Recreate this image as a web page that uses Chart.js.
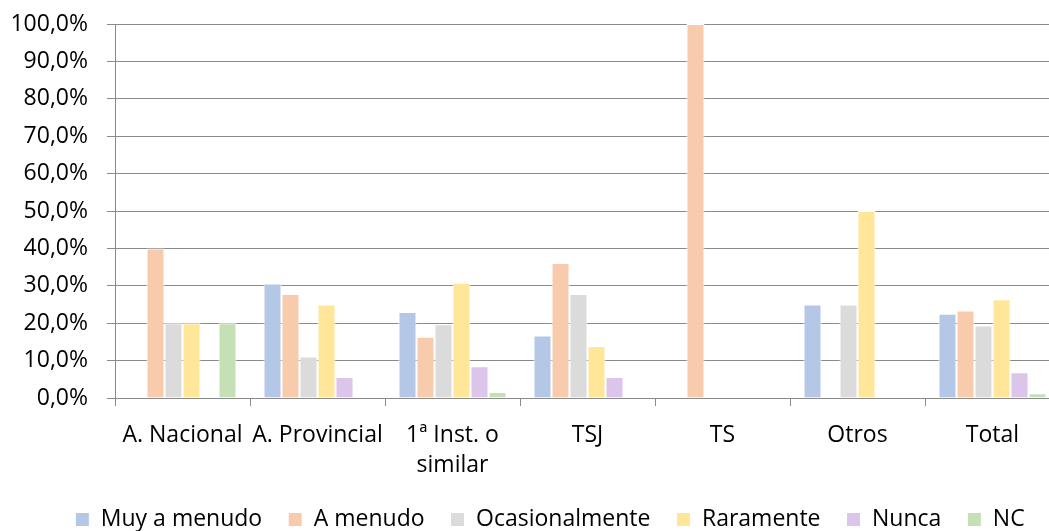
<!DOCTYPE html>
<html>
<head>
<meta charset="utf-8">
<script src="https://cdn.jsdelivr.net/npm/chart.js@4/dist/chart.umd.min.js"></script>
<style>
  html, body { margin: 0; padding: 0; overflow: hidden; background: #fff; }
  #wrap { width: 1100px; height: 541px; }
</style>
</head>
<body>
<div id="wrap"><canvas id="c" width="1100" height="541"></canvas></div>
<script>
const categories = ["A. Nacional", "A. Provincial", ["1ª Inst. o", "similar"], "TSJ", "TS", "Otros", "Total"];
const seriesNames = ["Muy a menudo", "A menudo", "Ocasionalmente", "Raramente", "Nunca", "NC"];
const muyAMenudo     = [0,    30.6, 23.0, 16.7, 0,   25, 22.5];
const aMenudo        = [40,   27.8, 16.4, 36.1, 100, 0,  23.4];
const ocasionalmente = [20,   11.1, 19.7, 27.8, 0,   25, 19.4];
const raramente      = [20,   25.0, 30.8, 13.9, 0,   50, 26.4];
const nunca          = [0,    5.6,  8.5,  5.6,  0,   0,  6.9];
const nc             = [20,   0,    1.6,  0,    0,   0,  1.3];
const yTicks = [0, 10, 20, 30, 40, 50, 60, 70, 80, 90, 100];

const seriesValues = [muyAMenudo, aMenudo, ocasionalmente, raramente, nunca, nc];
const colors = ["#B4C7E7", "#F8CBAD", "#DBDBDB", "#FFE699", "#DCC5EA", "#C5E0B4"];

Chart.defaults.font.family = "'Open Sans', sans-serif";
Chart.defaults.font.size = 23;
Chart.defaults.color = "#000";

const gridColor = "#8a8a8a";

new Chart(document.getElementById("c"), {
  type: "bar",
  data: {
    labels: categories,
    datasets: seriesNames.map((name, i) => ({
      label: name,
      data: seriesValues[i],
      backgroundColor: colors[i],
      borderColor: "#ffffff",
      borderWidth: 1,
      categoryPercentage: 0.8,
      barPercentage: 1.0
    }))
  },
  options: {
    responsive: false,
    devicePixelRatio: 1,
    animation: false,
    layout: { padding: { top: 24, left: 0, right: 0, bottom: 0 } },
    plugins: {
      tooltip: { enabled: false },
      legend: {
        position: "bottom",
        labels: {
          boxWidth: 14,
          boxHeight: 14,
          padding: 26,
          color: "#000",
          font: { size: 23 }
        }
      }
    },
    scales: {
      x: {
        offset: true,
        grid: {
          display: true,
          offset: true,
          drawOnChartArea: false,
          drawTicks: true,
          tickLength: 8,
          color: gridColor,
          lineWidth: 1
        },
        border: { display: true, color: gridColor, width: 1 },
        ticks: {
          autoSkip: false,
          maxRotation: 0,
          minRotation: 0,
          padding: 14,
          color: "#000",
          font: { size: 23, lineHeight: 1.32 }
        },
        afterFit: s => { s.height = 84; }
      },
      y: {
        min: 0,
        max: 100,
        afterBuildTicks: s => { s.ticks = yTicks.map(v => ({ value: v })); },
        grid: {
          color: gridColor,
          lineWidth: 1,
          drawTicks: true,
          tickLength: 8
        },
        border: { display: true, color: gridColor, width: 1 },
        ticks: {
          padding: 19,
          color: "#000",
          font: { size: 23 },
          callback: v => v.toFixed(1).replace(".", ",") + "%"
        },
        afterFit: s => { s.width = 115; s.paddingTop = 0; s.paddingBottom = 0; }
      },
      y2: {
        position: "right",
        display: true,
        grid: { display: false, drawTicks: false },
        border: { display: false },
        ticks: { display: false },
        afterFit: s => { s.width = 40; s.paddingTop = 0; s.paddingBottom = 0; }
      }
    }
  }
});
</script>
</body>
</html>
